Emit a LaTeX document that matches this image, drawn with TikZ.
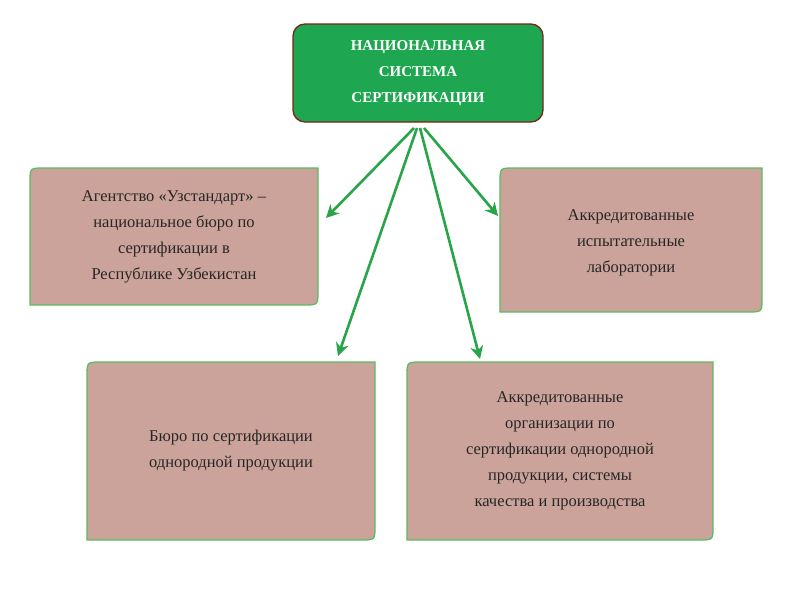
\documentclass[tikz,border=0pt]{standalone}
\usepackage{fontspec}
\setmainfont{Liberation Serif}
\usetikzlibrary{arrows.meta}
\definecolor{topg}{HTML}{1FA650}
\definecolor{topb}{HTML}{7A2418}
\definecolor{boxf}{HTML}{CBA39A}
\definecolor{boxb}{HTML}{5DBB63}
\definecolor{arr}{HTML}{27A548}
\tikzset{
 boxst/.style={fill=boxf,draw=boxb,line width=1.3pt},
 txt/.style={align=center,font=\fontsize{16.5}{26}\selectfont,text=black!85},
 arrst/.style={draw=arr,line width=2.6pt,-{Stealth[length=13pt,width=13pt]}}
}
\newcommand{\tabbox}[4]{%
 \path[boxst] (#1,#2+14) .. controls (#1,#2) .. (#1+14,#2) -- (#3,#2) -- (#3,#4-14) .. controls (#3,#4) .. (#3-14,#4) -- (#1,#4) -- cycle;}
\begin{document}
\begin{tikzpicture}[x=1pt,y=-1pt]
\useasboundingbox (0,0) rectangle (800,600);
\fill[white] (0,0) rectangle (800,600);
\draw[fill=topg,draw=topb,line width=1.3pt,rounded corners=12pt] (293,24) rectangle (543,122);
\node[align=center,text=white,font=\bfseries\fontsize{15}{26}\selectfont] (top) at (418,73) {НАЦИОНАЛЬНАЯ\\СИСТЕМА\\СЕРТИФИКАЦИИ};
\tabbox{30}{168}{318}{305}
\tabbox{500}{168}{762}{312}
\tabbox{87}{362}{375}{540}
\tabbox{407}{362}{713}{540}
\node[txt] (a) at (174,237) {Агентство «Узстандарт» –\\национальное бюро по\\сертификации в\\Республике Узбекистан};
\node[txt] (b) at (631,243) {Аккредитованные\\испытательные\\лаборатории};
\node[txt] (c) at (231,451) {Бюро по сертификации\\однородной продукции};
\node[txt] (d) at (560,451) {Аккредитованные\\организации по\\сертификации однородной\\продукции, системы\\качества и производства};
\coordinate (o1) at (414,128);
\coordinate (o2) at (417,128);
\coordinate (o3) at (420,128);
\coordinate (o4) at (424,128);
\coordinate (ea) at (326,218);
\coordinate (ec) at (338,356);
\coordinate (ed) at (480,359);
\coordinate (eb) at (498,216);
\draw[arrst] (o1) -- (ea);
\draw[arrst] (o2) -- (ec);
\draw[arrst] (o3) -- (ed);
\draw[arrst] (o4) -- (eb);
\end{tikzpicture}
\end{document}
